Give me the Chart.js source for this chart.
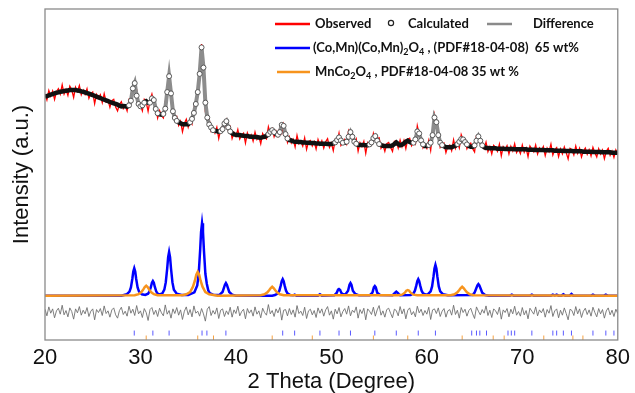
<!DOCTYPE html>
<html>
<head>
<meta charset="utf-8">
<script src="https://cdn.jsdelivr.net/npm/chart.js@4/dist/chart.umd.min.js"></script>
<style>
  html, body { margin: 0; background: #fff; }
  #wrap { width: 635px; height: 393px; }
</style>
</head>
<body>
<div id="wrap"><canvas id="xrd"></canvas></div>
<script>
// 2-theta sampling of the measured pattern
const thetaStart = 20, thetaStep = 0.2;

// calculated (Rietveld fit) intensity, one value per step from 20 to 80
const calculated = [
  73.5, 73.7, 73.9, 74.1, 74.3, 74.5, 74.7, 74.8, 75.0, 75.1,
  75.2, 75.3, 75.4, 75.5, 75.5, 75.5, 75.5, 75.4, 75.3, 75.1,
  75.0, 74.8, 74.6, 74.4, 74.2, 74.0, 73.8, 73.5, 73.3, 73.1,
  72.8, 72.6, 72.4, 72.2, 71.9, 71.7, 71.5, 71.3, 71.1, 70.8,
  70.6, 70.7, 70.6, 70.5, 70.9, 72.3, 76.0, 77.6, 73.8, 71.3,
  70.6, 70.9, 71.7, 72.1, 71.7, 71.7, 73.0, 72.5, 69.8, 68.5,
  68.2, 68.1, 68.3, 69.9, 74.9, 79.7, 74.5, 69.1, 67.1, 66.2,
  65.8, 65.5, 65.2, 65.2, 65.2, 65.2, 65.8, 66.8, 68.6, 71.3,
  74.9, 80.4, 88.4, 82.3, 71.7, 67.2, 65.1, 64.2, 63.4, 63.2,
  63.1, 62.9, 63.1, 63.7, 65.4, 66.1, 64.2, 63.0, 62.5, 62.1,
  62.0, 61.9, 61.9, 61.8, 61.7, 61.6, 61.6, 61.5, 61.4, 61.4,
  61.3, 61.3, 61.2, 61.1, 61.3, 61.4, 61.7, 62.2, 62.9, 63.4,
  62.8, 62.2, 62.0, 62.8, 65.0, 64.7, 62.2, 60.9, 60.4, 60.3,
  60.0, 59.9, 59.9, 59.8, 59.8, 59.7, 59.7, 59.6, 59.6, 59.5,
  59.5, 59.5, 59.4, 59.4, 59.3, 59.3, 59.3, 59.3, 59.2, 59.2,
  59.2, 59.4, 59.7, 60.4, 61.2, 60.3, 59.6, 59.6, 59.9, 61.4,
  62.8, 61.4, 59.9, 59.3, 58.9, 58.9, 58.9, 58.9, 58.8, 58.8,
  59.1, 59.7, 61.0, 61.6, 60.2, 59.2, 58.9, 58.7, 58.6, 58.6,
  58.6, 58.6, 58.8, 59.2, 59.7, 59.2, 58.8, 59.0, 59.4, 59.9,
  60.2, 59.8, 59.6, 59.6, 60.6, 63.0, 62.4, 60.3, 59.1, 58.6,
  58.6, 58.9, 59.6, 61.9, 67.2, 65.8, 61.9, 59.6, 58.9, 58.5,
  58.2, 58.2, 58.2, 58.2, 58.5, 58.7, 59.2, 59.9, 60.7, 60.6,
  59.8, 59.1, 58.6, 58.4, 58.4, 58.8, 60.2, 61.5, 60.2, 58.8,
  58.3, 58.0, 58.0, 57.9, 57.9, 57.9, 57.9, 57.8, 57.8, 57.8,
  57.8, 57.7, 57.7, 57.7, 57.7, 57.7, 57.6, 57.6, 57.6, 57.6,
  57.6, 57.6, 57.6, 57.5, 57.5, 57.5, 57.5, 57.4, 57.4, 57.4,
  57.4, 57.4, 57.3, 57.3, 57.3, 57.3, 57.3, 57.2, 57.2, 57.2,
  57.2, 57.2, 57.1, 57.1, 57.1, 57.1, 57.1, 57.0, 57.0, 57.0,
  57.0, 57.0, 56.9, 56.9, 56.9, 56.9, 56.9, 56.8, 56.8, 56.8,
  56.8, 56.8, 56.7, 56.7, 56.7, 56.7, 56.7, 56.6, 56.6, 56.6,
  56.6
];

// observed - calculated, same steps
const residual = [
   0.8, -1.2,  1.5, -0.4,  0.9, -1.8,  0.3,  1.1, -0.7,  2.0,
  -0.9,  0.4, -1.5,  1.2,  0.1, -2.2,  0.9, -0.3,  1.6, -1.0,
   0.5, -0.6,  1.3, -1.4,  0.2,  0.9, -2.4,  0.7, -0.2,  1.0,
  -1.1,  1.8, -0.5,  0.3, -1.6,  0.6,  1.2, -0.9, -1.9,  0.4,
   1.4, -0.8,  0.2, -1.3,  1.7, -0.4,  0.8, -1.1,  1.9, -0.6,
   0.3, -1.7,  1.0, -0.2, -2.6,  0.7,  1.3, -0.8,  0.5, -1.4,
   1.1, -0.3, -1.2,  2.1, -0.7,  0.4, -1.9,  0.9, -0.5,  1.3,
  -1.0,  0.6, -2.3,  0.2,  1.5, -0.9,  0.7, -1.5,  1.8, -0.4,
   0.2, -1.3,  1.0, -0.6, -2.8,  0.8,  1.6, -1.1,  0.4, -0.7,
   1.2, -2.0,  0.5,  0.9, -1.4,  0.3, -0.8,  1.4, -1.6,  0.6,
  -0.5,  1.7, -1.2,  0.1,  0.8, -2.1,  1.0, -0.4,  0.6, -1.3,
   1.5, -0.7,  0.3, -1.8,  1.1, -0.2, -1.0,  2.2, -0.6,  0.4,
  -1.4,  0.9, -0.3,  1.3, -2.5,  0.5,  0.7, -1.2,  1.0, -0.8,
   0.6, -1.6,  1.9, -0.5,  0.2, -1.1,  1.4, -2.0,  0.3,  0.8,
  -0.9,  0.4, -1.7,  1.2, -0.4,  0.9, -1.3,  0.6,  1.6, -1.0,
   0.3, -2.2,  0.8, -0.6,  1.3, -1.5,  0.1,  1.0, -0.7,  1.8,
  -1.2,  0.5, -0.2,  1.5, -1.9,  0.7, -0.5,  1.1, -2.4,  0.9,
   0.2, -0.8,  1.4, -1.3,  0.6,  1.9, -1.0,  0.3, -1.6,  0.7,
   1.1, -0.4, -1.8,  0.8,  0.4, -1.2,  1.6, -0.6,  0.9, -2.1,
   0.5,  1.2, -0.9,  0.1, -1.5,  1.7, -0.3,  0.8, -1.1,  0.4,
  -0.7,  1.4, -2.3,  0.6,  0.9, -0.5,  1.2, -1.4,  0.2,  1.0,
  -1.6,  0.3,  0.7, -1.0,  2.0, -0.8,  0.5, -1.9,  1.3, -0.2,
   0.8, -1.3,  0.4,  1.1, -0.6, -2.0,  1.5,  0.2, -0.9,  0.7,
  -0.4,  1.8, -1.1,  0.5, -1.7,  0.9,  0.3, -0.8,  1.4, -2.2,
   0.6, -0.2,  1.0, -1.5,  0.8, -0.6,  1.7, -1.0,  0.1, -1.3,
   1.3, -0.9,  0.4, -2.1,  1.1,  0.2, -0.7,  1.5, -1.2,  0.6,
  -0.3,  1.0, -1.6,  0.7, -0.4,  1.9, -1.4,  0.3,  0.9, -1.8,
   0.5, -1.0,  1.2, -0.5, -2.4,  0.8,  0.4, -1.1,  1.6, -0.6,
   0.9, -1.7,  0.2,  1.1, -0.8,  0.6, -1.3,  1.4, -0.2, -1.5,
   1.0, -0.6,  0.7, -1.9,  0.3,  1.2, -0.9,  0.5, -1.4,  0.8,
  -0.5
];
const diffOffset = 8.5;

// phase profiles [2theta, intensity]
const bluePhase = [
  [20, 13.4], [28.0, 13.4], [28.55, 13.8], [28.85, 14.6], [29.0, 15.9], [29.15, 18.5], [29.25, 20.7],
  [29.35, 21.7], [29.45, 20.7], [29.55, 18.5], [29.7, 15.9], [29.85, 14.6], [30.15, 13.8], [30.5, 13.6],
  [30.8, 14.0], [30.95, 14.7], [31.1, 16.1], [31.2, 17.3], [31.3, 17.8], [31.4, 17.3], [31.5, 16.1],
  [31.65, 14.7], [31.8, 14.0], [32.0, 13.8], [32.3, 14.1], [32.5, 15.2], [32.65, 17.4], [32.8, 21.6],
  [32.9, 25.0], [33.0, 26.6], [33.1, 25.0], [33.2, 21.6], [33.35, 17.4], [33.5, 15.2], [33.8, 14.0],
  [34.3, 13.6], [35.0, 13.6], [35.65, 14.4], [35.95, 16.5], [36.1, 20.0], [36.25, 27.0], [36.35, 32.7],
  [36.45, 35.3], [36.55, 32.7], [36.65, 27.0], [36.8, 20.0], [36.95, 17.0], [37.1, 15.0], [37.25, 14.2],
  [37.6, 13.7], [38.0, 13.6], [38.3, 13.7], [38.6, 14.5], [38.75, 15.8], [38.85, 16.7], [38.95, 17.2],
  [39.05, 16.7], [39.15, 15.8], [39.3, 14.5], [39.6, 13.7], [40.0, 13.4], [43.8, 13.4], [44.1, 13.6],
  [44.4, 14.1], [44.55, 14.9], [44.7, 16.5], [44.8, 17.8], [44.9, 18.4], [45.0, 17.8], [45.1, 16.5],
  [45.25, 14.9], [45.4, 14.1], [45.7, 13.6], [46.0, 13.5], [46.15, 13.7], [46.35, 13.4], [48.6, 13.4],
  [48.8, 13.8], [49.0, 13.4], [50.3, 13.5], [50.55, 14.2], [50.7, 15.2], [50.8, 15.4], [50.9, 15.2],
  [51.05, 14.2], [51.3, 13.7], [51.5, 13.9], [51.75, 14.9], [51.9, 16.7], [52.0, 17.2], [52.1, 16.7],
  [52.25, 14.9], [52.5, 13.9], [52.9, 13.5], [54.0, 13.5], [54.3, 14.3], [54.45, 15.9], [54.55, 16.3],
  [54.65, 15.9], [54.8, 14.3], [55.1, 13.6], [56.4, 13.5], [56.65, 14.2], [56.8, 14.6], [56.95, 14.2],
  [57.2, 13.5], [58.3, 13.6], [58.6, 14.1], [58.75, 14.9], [58.9, 16.5], [59.0, 17.8], [59.1, 18.4],
  [59.2, 17.8], [59.3, 16.5], [59.45, 14.9], [59.6, 14.1], [59.9, 13.7], [60.1, 13.8], [60.4, 14.7],
  [60.55, 16.2], [60.7, 19.2], [60.8, 21.6], [60.9, 22.7], [61.0, 21.6], [61.1, 19.2], [61.25, 16.2],
  [61.4, 14.7], [61.7, 13.8], [62.2, 13.5], [64.8, 13.6], [65.0, 14.3], [65.15, 15.4], [65.3, 16.5],
  [65.4, 16.9], [65.5, 16.5], [65.65, 15.4], [65.8, 14.3], [66.1, 13.6], [66.5, 13.4], [68.7, 13.4],
  [68.9, 13.7], [69.1, 13.4], [70.8, 13.4], [71.0, 13.7], [71.2, 13.4], [73.0, 13.4], [73.2, 13.7],
  [73.4, 13.5], [73.6, 13.7], [73.8, 13.4], [74.1, 13.4], [74.3, 13.8], [74.5, 13.4], [74.95, 13.4],
  [75.15, 13.9], [75.35, 13.4], [77.2, 13.4], [77.4, 13.7], [77.6, 13.4], [78.55, 13.4], [78.75, 13.7],
  [78.95, 13.4], [80, 13.4]
];
const orangePhase = [
  [20, 13.4], [29.4, 13.5], [29.8, 13.85], [30.1, 14.5], [30.3, 15.3], [30.45, 16.0], [30.6, 16.4],
  [30.75, 16.0], [30.9, 15.3], [31.1, 14.5], [31.4, 13.85], [31.8, 13.5], [34.4, 13.5], [34.8, 13.8],
  [35.2, 14.5], [35.5, 16.1], [35.7, 17.9], [35.85, 19.7], [36.0, 20.6], [36.15, 19.7], [36.3, 17.9],
  [36.5, 16.1], [36.8, 14.5], [37.2, 13.8], [37.65, 13.6], [38.1, 13.4], [42.6, 13.5], [43.0, 13.8],
  [43.3, 14.4], [43.5, 15.1], [43.65, 15.7], [43.8, 16.1], [43.95, 15.7], [44.1, 15.1], [44.3, 14.4],
  [44.6, 13.8], [45.0, 13.5], [57.0, 13.5], [57.4, 13.7], [57.7, 14.3], [57.85, 14.9], [58.0, 15.1],
  [58.15, 14.9], [58.3, 14.3], [58.6, 13.7], [59.0, 13.5], [62.5, 13.5], [62.9, 13.8], [63.2, 14.4],
  [63.4, 15.1], [63.55, 15.7], [63.7, 16.1], [63.85, 15.7], [64.0, 15.1], [64.2, 14.4], [64.5, 13.8],
  [64.9, 13.5], [80, 13.4]
];

// Bragg reflection positions
const blueRefl = [29.35, 31.3, 33.0, 36.45, 36.96, 38.95, 44.9, 46.15, 48.8, 50.8, 52.0, 54.55, 56.8,
  59.1, 60.9, 64.7, 65.2, 65.55, 66.25, 68.5, 68.85, 69.2, 71.0, 73.2, 73.6, 74.3, 75.15, 77.4, 78.75, 79.6];
const orangeRefl = [30.6, 36.0, 37.65, 43.8, 48.0, 54.4, 58.0, 63.7, 66.95, 68.1, 72.25, 75.3, 76.35];
const blueTickLevel = 2.1, orangeTickLevel = 0.6;

const xTicks = [20, 30, 40, 50, 60, 70, 80];

const theta = i => +(thetaStart + i * thetaStep).toFixed(2);
const calcPts = calculated.map((v, i) => ({ x: theta(i), y: v }));
const obsPts = calculated.map((v, i) => ({ x: theta(i), y: v + residual[i] }));
const diffPts = residual.map((v, i) => ({ x: theta(i), y: v + diffOffset }));
const pairs = arr => arr.map(p => ({ x: p[0], y: p[1] }));

// open circles only where the fit rises or falls (the flat parts read as a solid band)
function circleRadius(c) {
    const i = c.dataIndex, v = calculated[i];
    const a = calculated[i - 1] ?? v, b = calculated[i + 1] ?? v;
    return Math.max(Math.abs(v - a), Math.abs(v - b)) > 0.6 ? 2.5 : 0;
}
const steep = s => Math.abs(s.p1.parsed.y - s.p0.parsed.y) > 0.6;

const AXIS_FONT = '"Liberation Sans", Arial, sans-serif';
const LEG_FONT = 'Lato, "Open Sans", sans-serif';

const framePlugin = {
    id: 'frame',
    afterDatasetsDraw(chart) {
        const { ctx, chartArea: a } = chart;
        ctx.save();
        ctx.strokeStyle = '#8a8a8a';
        ctx.lineWidth = 1.3;
        ctx.strokeRect(a.left, a.top, a.right - a.left, a.bottom - a.top);
        ctx.restore();
    }
};

const legendPlugin = {
    id: 'xrdLegend',
    afterDraw(chart) {
        const ctx = chart.ctx;
        ctx.save();
        ctx.textBaseline = 'middle';
        ctx.fillStyle = '#111';
        function seg(x1, x2, y, color) {
            ctx.strokeStyle = color; ctx.lineWidth = 2.5;
            ctx.beginPath(); ctx.moveTo(x1, y); ctx.lineTo(x2, y); ctx.stroke();
        }
        function rich(x, y, parts) {
            parts.forEach(([t, sub]) => {
                ctx.font = sub ? `bold 9px ${LEG_FONT}` : `bold 13px ${LEG_FONT}`;
                ctx.fillText(t, x, sub ? y + 4 : y);
                x += ctx.measureText(t).width;
            });
        }
        seg(275, 310, 24, '#ff0000');
        rich(315, 24, [['Observed']]);
        ctx.strokeStyle = '#222'; ctx.lineWidth = 1.2;
        ctx.beginPath(); ctx.arc(391, 23, 2.6, 0, Math.PI * 2); ctx.stroke();
        rich(408, 24, [['Calculated']]);
        seg(487, 512, 24, '#8a8a8a');
        rich(533, 24, [['Difference']]);
        seg(275, 310, 48, '#0000ff');
        rich(313, 48, [['(Co,Mn)(Co,Mn)'], ['2', 1], ['O'], ['4', 1], [' , (PDF#18-04-08)  65 wt%']]);
        seg(277, 310, 72, '#f7941d');
        rich(315, 72, [['MnCo'], ['2', 1], ['O'], ['4', 1], [' , PDF#18-04-08 35 wt %']]);
        ctx.restore();
    }
};

new Chart(document.getElementById('xrd'), {
    type: 'line',
    data: {
        datasets: [
            { label: 'Calculated', data: calcPts, order: 0, showLine: false, pointStyle: 'circle',
              pointRadius: circleRadius, pointBorderColor: '#4a4a4a', pointBorderWidth: 0.9, pointBackgroundColor: '#fff' },
            { label: 'Calculated band', data: calcPts, order: 1, borderColor: '#111', borderWidth: 4.5, pointRadius: 0,
              segment: { borderWidth: s => steep(s) ? 4 : undefined, borderColor: s => steep(s) ? '#8c8c8c' : undefined } },
            { label: 'Observed', data: obsPts, order: 2, borderColor: '#ff0000', borderWidth: 1.3, pointRadius: 0 },
            { label: 'MnCo2O4', data: pairs(orangePhase), order: 3, borderColor: '#f7941d', borderWidth: 2.5, pointRadius: 0 },
            { label: '(Co,Mn)(Co,Mn)2O4', data: pairs(bluePhase), order: 4, borderColor: '#0000ff', borderWidth: 2.5, pointRadius: 0 },
            { label: 'Difference', data: diffPts, order: 5, borderColor: '#707070', borderWidth: 0.9, pointRadius: 0 },
            { label: 'hkl blue', data: blueRefl.map(x => ({ x, y: blueTickLevel })), order: 6, showLine: false,
              pointStyle: 'line', rotation: 90, pointRadius: 2.5, pointBorderColor: '#5a5aff', pointBorderWidth: 1 },
            { label: 'hkl orange', data: orangeRefl.map(x => ({ x, y: orangeTickLevel })), order: 6, showLine: false,
              pointStyle: 'line', rotation: 90, pointRadius: 2.5, pointBorderColor: '#f5a040', pointBorderWidth: 1 }
        ]
    },
    options: {
        responsive: true, maintainAspectRatio: false, animation: false,
        parsing: false, normalized: true,
        layout: { padding: { top: 9, right: 17, left: 0, bottom: 0 } },
        plugins: { legend: { display: false }, tooltip: { enabled: false } },
        scales: {
            x: {
                type: 'linear', min: 20, max: 80,
                grid: { display: false, drawTicks: false }, border: { display: false },
                afterBuildTicks: s => { s.ticks = xTicks.map(v => ({ value: v })); },
                afterFit: s => { s.height = 53; },
                ticks: { autoSkip: false, maxRotation: 0, padding: 5, color: '#111', font: { family: AXIS_FONT, size: 22 } },
                title: { display: true, text: '2 Theta (Degree)', color: '#111', padding: { top: 0, bottom: 0 },
                         font: { family: AXIS_FONT, size: 22, lineHeight: 1.0 } }
            },
            y: {
                min: 0, max: 100,
                grid: { display: false, drawTicks: false }, border: { display: false },
                ticks: { display: false },
                afterFit: s => { s.width = 45; },
                title: { display: true, text: 'Intensity (a.u.)', color: '#111', padding: { top: 9, bottom: 0 },
                         font: { family: AXIS_FONT, size: 22, lineHeight: 1.2 } }
            }
        }
    },
    plugins: [framePlugin, legendPlugin]
});
</script>
</body>
</html>
